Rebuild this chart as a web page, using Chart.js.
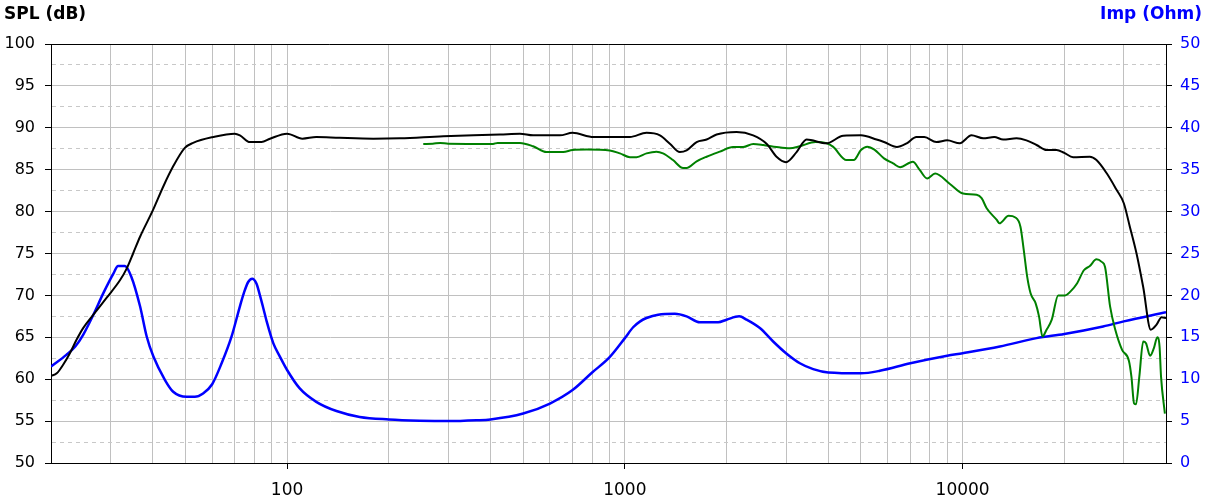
<!DOCTYPE html>
<html lang="en">
<head>
<meta charset="UTF-8">
<title>SPL / Impedance</title>
<style>
body { margin: 0; padding: 0; background: #fff; }
#wrap { width: 1207px; height: 504px; }
</style>
<script src="https://cdn.jsdelivr.net/npm/chart.js"></script>
</head>
<body>
<div id="wrap"><canvas id="splChart" width="1207" height="504"></canvas></div>
<script>
// SPL response (black)
const freqSpl = [20, 20.8, 21.7, 22.75, 23.8, 24.9, 26.7, 29.2, 32, 33.5, 35, 36.7, 40.1, 43, 46, 49.8, 52.7, 60.4, 70, 72.5, 77.6, 84, 89, 100, 111, 122, 143, 180, 216, 290, 427, 489, 535, 642, 700, 808, 1035, 1159, 1270, 1359, 1455, 1523, 1631, 1746, 1869, 2141, 2398, 2627, 2812, 3000, 3224, 3451, 3955, 4430, 5000, 5560, 5850, 6390, 6830, 7300, 7700, 8360, 9000, 9810, 10620, 11500, 12400, 13180, 14440, 15450, 16550, 17720, 18970, 20000, 21230, 23800, 24900, 26670, 28550, 30000, 31260, 32720, 34240, 36060, 37500, 38800, 40000];
const spl = [60.4, 60.7, 61.7, 63.1, 64.7, 66.1, 67.7, 69.7, 71.8, 73.2, 75.0, 77.0, 80.2, 83.0, 85.4, 87.6, 88.2, 88.9, 89.3, 89.1, 88.3, 88.3, 88.7, 89.3, 88.7, 88.9, 88.8, 88.7, 88.75, 89.0, 89.2, 89.3, 89.1, 89.1, 89.4, 88.9, 88.9, 89.4, 89.1, 88.1, 87.1, 87.3, 88.3, 88.6, 89.2, 89.5, 89.1, 88.1, 86.55, 85.9, 87.1, 88.6, 88.15, 89.05, 89.1, 88.6, 88.3, 87.7, 88.15, 88.9, 88.9, 88.3, 88.5, 88.15, 89.1, 88.75, 88.9, 88.6, 88.75, 88.5, 87.95, 87.35, 87.35, 87.0, 86.5, 86.55, 86.15, 84.6, 82.6, 81.0, 78.2, 75.0, 71.0, 65.9, 66.5, 67.4, 67.3];

// second SPL response (green)
const freqGreen = [253, 270, 284, 300, 407, 420, 489, 535, 586, 657, 700, 771, 902, 967, 1035, 1083, 1159, 1240, 1297, 1388, 1487, 1523, 1631, 1746, 1911, 2090, 2240, 2398, 2568, 2812, 3079, 3297, 3670, 3955, 4130, 4530, 4760, 5000, 5220, 5480, 5850, 6226, 6530, 7120, 7470, 7850, 8290, 9170, 10030, 11000, 11380, 11780, 12620, 12850, 13680, 14330, 14830, 15170, 15530, 15890, 16450, 16830, 17230, 17720, 18360, 19180, 20100, 20840, 21830, 22850, 23800, 24900, 25800, 26400, 27330, 28310, 29650, 31060, 31600, 32180, 32600, 33350, 34240, 34900, 35900, 36830, 37700, 38280, 38670, 39700];
const green = [88.07, 88.1, 88.2, 88.1, 88.07, 88.2, 88.2, 87.8, 87.1, 87.1, 87.35, 87.4, 87.3, 86.95, 86.5, 86.5, 86.95, 87.15, 86.95, 86.15, 85.2, 85.2, 86.0, 86.55, 87.15, 87.7, 87.7, 88.07, 87.95, 87.7, 87.55, 87.8, 88.3, 88.15, 87.75, 86.15, 86.15, 87.35, 87.75, 87.4, 86.35, 85.75, 85.3, 85.95, 84.95, 83.95, 84.55, 83.3, 82.15, 82.0, 81.6, 80.4, 79.0, 78.6, 79.5, 79.3, 78.2, 75.4, 72.2, 70.25, 69.05, 67.5, 65.1, 65.9, 67.1, 70.0, 70.0, 70.45, 71.45, 73.0, 73.5, 74.3, 74.0, 73.4, 68.65, 65.9, 63.5, 62.2, 60.3, 57.1, 57.0, 60.3, 64.5, 64.3, 62.8, 63.7, 65.0, 63.9, 60.3, 55.9];

// impedance (blue, right axis)
const freqImp = [20, 22.2, 23.6, 24.9, 26.7, 28.6, 30.6, 31.6, 33.1, 34.6, 36.7, 38.4, 40.2, 43.5, 46, 50.4, 53.3, 56.4, 60, 64, 68.5, 72.5, 74.5, 76.7, 78.8, 81.2, 83.1, 85, 87, 91, 95.2, 100, 109, 122, 140, 164, 200, 247, 300, 364, 400, 500, 600, 700, 800, 900, 1000, 1058, 1110, 1159, 1255, 1406, 1523, 1667, 1889, 2000, 2180, 2293, 2510, 2748, 3000, 3297, 3610, 4000, 5000, 5686, 7000, 9000, 10000, 12890, 16550, 20000, 26060, 30000, 40000];
const imp = [11.5, 12.9, 13.9, 15.3, 17.7, 20.3, 22.6, 23.5, 23.5, 22.2, 18.7, 15.1, 12.7, 9.9, 8.5, 7.9, 7.9, 8.3, 9.4, 11.9, 15.1, 18.7, 20.3, 21.6, 22.0, 21.4, 20.0, 18.5, 16.9, 14.3, 12.7, 11.1, 8.9, 7.3, 6.2, 5.5, 5.2, 5.05, 5.0, 5.1, 5.2, 5.9, 7.1, 8.7, 10.8, 12.6, 14.9, 16.2, 16.9, 17.3, 17.7, 17.8, 17.5, 16.8, 16.8, 17.1, 17.5, 17.1, 16.1, 14.5, 13.1, 11.9, 11.2, 10.8, 10.7, 11.0, 11.9, 12.8, 13.1, 13.9, 14.9, 15.4, 16.3, 16.9, 18.0];

// grid positions and labels on the frequency axis
const xGrid = [20, 30, 40, 50, 60, 70, 80, 90, 100, 200, 300, 400, 500, 600, 700, 800, 900, 1000, 2000, 3000, 4000, 5000, 6000, 7000, 8000, 9000, 10000, 20000, 30000, 40000];
const xLabels = [100, 1000, 10000];

const toPoints = (xs, ys) => xs.map((x, i) => ({ x: x, y: ys[i] }));
const isMajor = v => Math.abs(v % 5) < 1e-6;

// black frame on top + axis titles
const framePlugin = {
    id: 'frame',
    afterDraw(chart) {
        const { ctx, chartArea } = chart;
        ctx.save();
        ctx.strokeStyle = '#000';
        ctx.lineWidth = 1;
        ctx.beginPath();
        ctx.moveTo(chartArea.left, Math.round(chartArea.top) + 0.5);
        ctx.lineTo(chartArea.right, Math.round(chartArea.top) + 0.5);
        ctx.stroke();
        ctx.font = 'bold 17px "DejaVu Sans"';
        ctx.textBaseline = 'alphabetic';
        ctx.fillStyle = '#000';
        ctx.textAlign = 'left';
        ctx.fillText('SPL (dB)', 4, 19);
        ctx.fillStyle = '#0000ff';
        ctx.textAlign = 'right';
        ctx.fillText('Imp (Ohm)', 1202, 19);
        ctx.restore();
    }
};

const ctx = document.getElementById('splChart').getContext('2d');
new Chart(ctx, {
    type: 'line',
    data: {
        datasets: [
            {
                label: 'SPL',
                data: toPoints(freqSpl, spl),
                borderColor: '#000000',
                borderWidth: 2,
                yAxisID: 'y'
            },
            {
                label: 'SPL 2',
                data: toPoints(freqGreen, green),
                borderColor: '#008000',
                borderWidth: 2,
                yAxisID: 'y'
            },
            {
                label: 'Impedance',
                data: toPoints(freqImp, imp),
                borderColor: '#0000ff',
                borderWidth: 2.5,
                yAxisID: 'y2'
            }
        ]
    },
    options: {
        responsive: false,
        animation: false,
        layout: { padding: { top: 44, left: 0, right: 0, bottom: 0 } },
        elements: {
            point: { radius: 0 },
            line: { cubicInterpolationMode: 'monotone' }
        },
        plugins: {
            legend: { display: false },
            tooltip: { enabled: false }
        },
        scales: {
            x: {
                type: 'logarithmic',
                min: 20,
                max: 40000,
                afterBuildTicks: scale => { scale.ticks = xGrid.map(v => ({ value: v })); },
                afterFit: scale => { scale.height = 41; },
                ticks: {
                    autoSkip: false,
                    maxRotation: 0,
                    padding: 11,
                    color: '#000',
                    font: { family: 'DejaVu Sans', size: 17 },
                    callback: v => xLabels.includes(v) ? String(v) : ''
                },
                grid: {
                    color: '#c0c0c0',
                    tickLength: 6,
                    tickColor: c => (c.tick && xLabels.includes(c.tick.value)) ? '#000' : 'rgba(0,0,0,0)'
                },
                border: { color: '#000', width: 1 }
            },
            y: {
                position: 'left',
                min: 50,
                max: 100,
                afterFit: scale => { scale.width = 51; },
                ticks: {
                    stepSize: 2.5,
                    autoSkip: false,
                    padding: 10,
                    color: '#000',
                    font: { family: 'DejaVu Sans', size: 16 },
                    callback: v => isMajor(v) ? String(v) : ''
                },
                grid: {
                    color: c => (c.tick && !isMajor(c.tick.value)) ? '#c8c8c8' : '#c0c0c0',
                    tickLength: 6,
                    tickColor: c => (c.tick && isMajor(c.tick.value)) ? '#000' : 'rgba(0,0,0,0)'
                },
                border: {
                    color: '#000',
                    width: 1,
                    dash: c => (c.tick && !isMajor(c.tick.value)) ? [4, 4] : []
                }
            },
            y2: {
                position: 'right',
                min: 0,
                max: 50,
                afterFit: scale => { scale.width = 41; },
                ticks: {
                    stepSize: 5,
                    autoSkip: false,
                    padding: 8,
                    color: '#0000ff',
                    font: { family: 'DejaVu Sans', size: 16 }
                },
                grid: {
                    drawOnChartArea: false,
                    tickLength: 6,
                    tickColor: '#000'
                },
                border: { color: '#000', width: 1 }
            }
        }
    },
    plugins: [framePlugin]
});
</script>
</body>
</html>
